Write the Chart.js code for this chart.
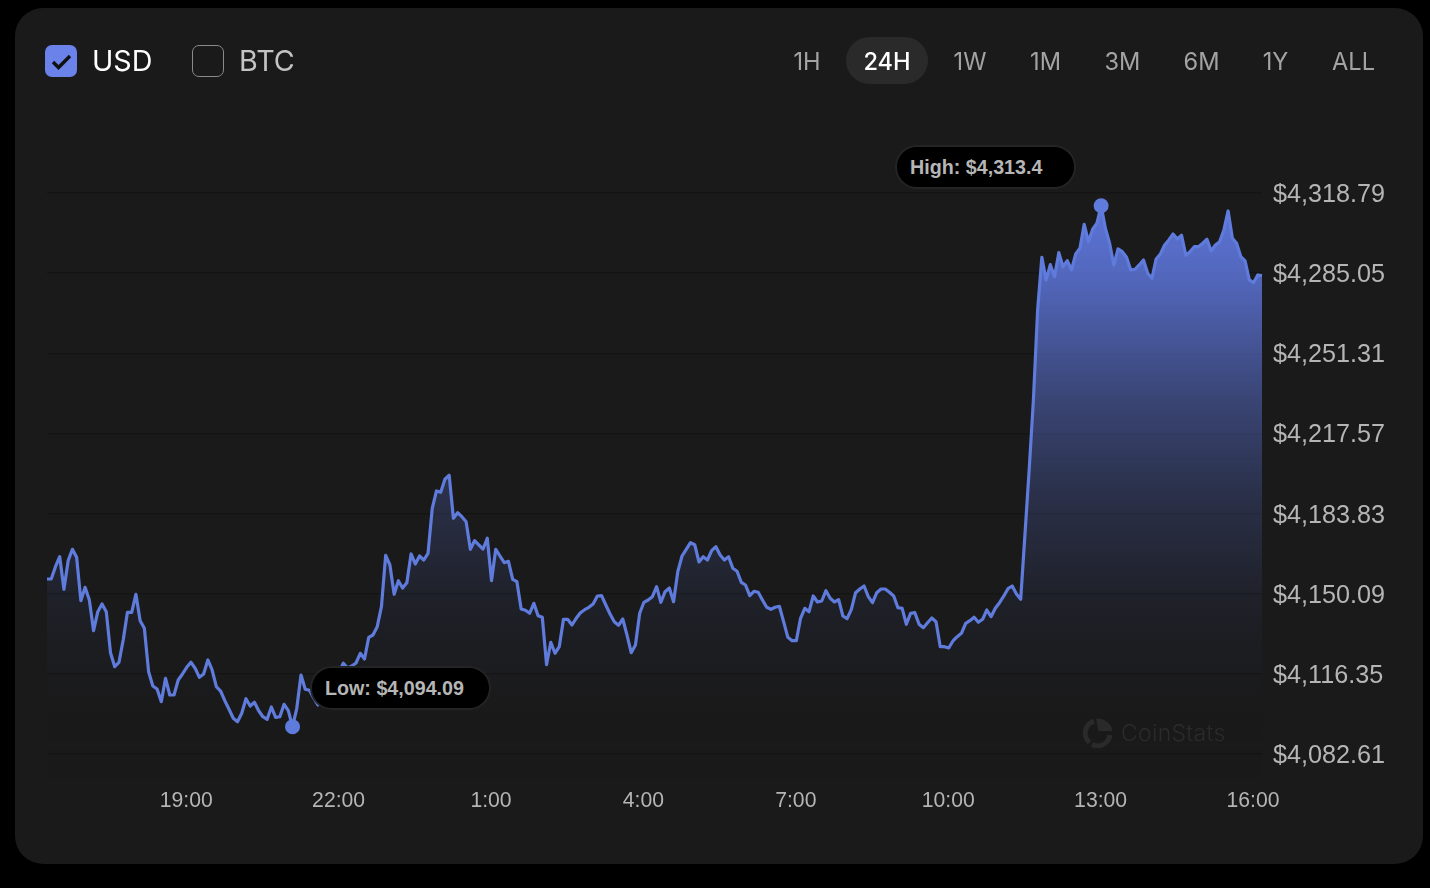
<!DOCTYPE html>
<html>
<head>
<meta charset="utf-8">
<title>CoinStats price chart</title>
<script src="https://cdn.jsdelivr.net/npm/chart.js@4/dist/chart.umd.min.js"></script>
<style>
  html, body { margin: 0; width: 1430px; height: 888px; background: #000; overflow: hidden; }
  #card { position: absolute; left: 15px; top: 8px; width: 1408px; height: 856px; background: #1a1a1a; border-radius: 28px; }
  #priceChart { position: absolute; left: 0; top: 0; }
  .box { position: absolute; top: 45px; width: 32px; height: 32px; box-sizing: border-box; border-radius: 7px; }
  #usdBox { left: 45px; background: #6a82ea; }
  #btcBox { left: 192px; border: 1.5px solid #8a8a8a; }
  .cur { position: absolute; top: 41px; font: 400 28.7px/40px Inter, sans-serif; }
  #usdText { left: 92px; color: #fff; }
  #btcText { left: 239px; color: #c4c4c4; }
  #activeRange { position: absolute; left: 846px; top: 37px; width: 82px; height: 47px; border-radius: 24px; background: #2a2a2a; }
  .range { position: absolute; top: 44.5px; width: 80px; margin-left: -40px; text-align: center; font: 400 23.6px/34px Inter, sans-serif; color: #a3a3a3; }
  .range.on { color: #fff; font-weight: 500; }
  .pill { position: absolute; box-sizing: border-box; width: 181px; height: 44px; border-radius: 22px; background: #000; border: 2px solid #242424; color: #b6b6b6; font: 700 19.7px/40px "Liberation Sans", Arial, sans-serif; padding-left: 13px; }
  #highPill { left: 895px; top: 145px; }
  #lowPill { left: 310px; top: 666px; }
  #mark { position: absolute; left: 1083px; top: 718px; width: 30px; height: 30px; }
  #markText { position: absolute; left: 1121px; top: 717px; font: 300 23px/32px Inter, sans-serif; letter-spacing: 0.3px; color: #2b2b2b; }
</style>
</head>
<body>
<div id="card"></div>
<canvas id="priceChart" width="1430" height="888"></canvas>

<div id="usdBox" class="box">
  <svg width="32" height="32" viewBox="0 0 32 32"><path d="M8 17 L13.5 22.5 L25 11" fill="none" stroke="#111" stroke-width="3.4"/></svg>
</div>
<div id="usdText" class="cur">USD</div>
<div id="btcBox" class="box"></div>
<div id="btcText" class="cur">BTC</div>
<div id="activeRange"></div>
<div id="ranges"></div>

<div id="highPill" class="pill"></div>
<div id="lowPill" class="pill"></div>

<svg id="mark" viewBox="0 0 30 30">
  <path d="M27 17 A12.5 12.5 0 0 1 9 26.5" fill="none" stroke="#2a2a2a" stroke-width="5"/>
  <path d="M6.5 24.5 A12.5 12.5 0 0 1 11 3.2" fill="none" stroke="#2a2a2a" stroke-width="5"/>
  <path d="M13 0.5 L15.5 13 L29.5 13 A15 15 0 0 0 13 0.5 Z" fill="#2a2a2a"/>
</svg>
<div id="markText">CoinStats</div>

<script>
const rangeNames = ['1H', '24H', '1W', '1M', '3M', '6M', '1Y', 'ALL'];
const rangeCenters = [807, 887, 970, 1045.5, 1122.5, 1201.5, 1275.5, 1353.5];
const activeRange = '24H';

const xTickLabels = ['19:00', '22:00', '1:00', '4:00', '7:00', '10:00', '13:00', '16:00'];
const yTickValues = [4318.79, 4285.05, 4251.31, 4217.57, 4183.83, 4150.09, 4116.35, 4082.61];

// 5 minute samples, first one at 16:15
const prices = [
  4156.29, 4156.29, 4161.47, 4165.68, 4151.95, 4164.0, 4168.79, 4165.43, 4147.15, 4152.8,
  4147.45, 4134.52, 4142.52, 4145.76, 4142.52, 4125.26, 4119.37, 4121.22, 4130.61, 4142.27,
  4142.27, 4149.85, 4138.73, 4135.53, 4117.26, 4111.24, 4109.98, 4104.63, 4114.48, 4107.45,
  4107.45, 4113.77, 4116.29, 4119.11, 4121.22, 4118.69, 4114.9, 4116.29, 4122.19, 4117.98,
  4110.95, 4109.13, 4105.05, 4101.43, 4097.64, 4096.21, 4099.75, 4105.89, 4102.82, 4104.38,
  4100.84, 4098.31, 4097.22, 4102.4, 4098.06, 4098.31, 4103.54, 4100.84, 4094.09, 4101.85,
  4115.87, 4109.85, 4109.43, 4106.19, 4103.24, 4106.61, 4109.56, 4112.08, 4114.19, 4117.13,
  4120.8, 4118.82, 4119.66, 4120.92, 4125.01, 4122.61, 4131.74, 4132.71, 4136.21, 4144.63,
  4166.27, 4162.18, 4149.85, 4155.57, 4152.5, 4154.73, 4166.82, 4162.61, 4165.97, 4164.29,
  4167.11, 4186.06, 4193.34, 4192.79, 4198.27, 4199.95, 4181.85, 4184.21, 4182.52, 4180.42,
  4168.79, 4172.42, 4170.61, 4168.92, 4173.43, 4155.57, 4168.79, 4165.97, 4163.15, 4163.74,
  4156.16, 4155.15, 4143.66, 4143.11, 4141.85, 4146.06, 4140.84, 4140.16, 4120.21, 4129.64,
  4125.01, 4127.79, 4139.32, 4139.32, 4136.92, 4139.74, 4142.1, 4143.36, 4144.37, 4145.76,
  4149.13, 4149.26, 4145.34, 4141.55, 4138.31, 4136.8, 4139.45, 4132.71, 4125.26, 4128.5,
  4141.85, 4146.48, 4147.45, 4148.84, 4153.05, 4146.48, 4150.94, 4152.5, 4146.73, 4159.36,
  4165.97, 4168.79, 4171.57, 4170.73, 4163.45, 4165.68, 4164.29, 4168.21, 4169.89, 4166.39,
  4164.29, 4165.68, 4160.8, 4159.53, 4154.9, 4153.76, 4149.26, 4151.11, 4150.69, 4147.45,
  4144.37, 4143.53, 4144.37, 4144.8, 4138.31, 4131.74, 4130.31, 4130.31, 4139.74, 4143.95,
  4142.52, 4149.13, 4146.61, 4147.03, 4151.36, 4148.16, 4146.61, 4147.57, 4140.71, 4139.57,
  4143.53, 4150.52, 4152.08, 4153.34, 4148.84, 4146.31, 4150.52, 4152.08, 4152.08, 4150.69,
  4149.13, 4144.21, 4143.95, 4137.22, 4141.85, 4142.1, 4137.22, 4135.79, 4137.89, 4139.87,
  4138.31, 4127.79, 4127.79, 4127.24, 4130.19, 4132.0, 4133.43, 4137.64, 4138.73, 4140.16,
  4138.06, 4139.32, 4143.24, 4140.42, 4143.95, 4146.31, 4149.13, 4152.21, 4153.34, 4149.97,
  4147.74, 4174.82, 4202.18, 4231.65, 4269.55, 4291.74, 4282.18, 4288.62, 4283.57, 4293.67,
  4287.78, 4290.31, 4286.39, 4293.13, 4295.52, 4305.63, 4298.31, 4303.52, 4306.05, 4313.4,
  4303.94, 4297.63, 4288.49, 4295.23, 4294.09, 4291.74, 4286.39, 4286.68, 4288.49, 4290.6,
  4285.0, 4282.89, 4291.02, 4293.13, 4296.91, 4299.02, 4301.55, 4299.44, 4301.0, 4292.58,
  4294.09, 4296.2, 4296.2, 4297.63, 4299.31, 4294.39, 4296.91, 4298.31, 4303.23, 4311.23,
  4299.74, 4297.63, 4291.99, 4290.18, 4282.18, 4281.04, 4284.28, 4283.99
];

const lowIndex = 58;
const highIndex = 249;
const lowText = 'Low: $4,094.09';
const highText = 'High: $4,313.4';

// time labels for the category axis, steps of 5 minutes
const startMinutes = 16 * 60 + 15;
const times = prices.map((p, i) => {
  const m = (startMinutes + i * 5) % 1440;
  return Math.floor(m / 60) + ':' + String(m % 60).padStart(2, '0');
});

document.getElementById('ranges').innerHTML = rangeNames.map((name, i) =>
  `<div class="range${name === activeRange ? ' on' : ''}" style="left:${rangeCenters[i]}px">${name}</div>`
).join('');
document.getElementById('highPill').textContent = highText;
document.getElementById('lowPill').textContent = lowText;

function areaFill(context) {
  const area = context.chart.chartArea;
  if (!area) return 'transparent';
  const g = context.chart.ctx.createLinearGradient(0, area.top, 0, area.bottom);
  g.addColorStop(0, 'rgba(98,124,232,0.95)');
  g.addColorStop(0.15, 'rgba(98,124,232,0.78)');
  g.addColorStop(0.354, 'rgba(98,124,232,0.44)');
  g.addColorStop(0.526, 'rgba(98,124,232,0.22)');
  g.addColorStop(0.70, 'rgba(98,124,232,0.07)');
  g.addColorStop(0.84, 'rgba(98,124,232,0.015)');
  g.addColorStop(0.95, 'rgba(26,26,26,0)');
  g.addColorStop(1, 'rgba(16,16,16,0.08)');
  return g;
}

new Chart(document.getElementById('priceChart').getContext('2d'), {
  type: 'line',
  data: {
    labels: times,
    datasets: [
      {
        label: 'USD',
        data: prices,
        borderColor: '#5f7bdc',
        borderWidth: 3.2,
        borderJoinStyle: 'round',
        backgroundColor: areaFill,
        fill: 'start',
        pointRadius: 0,
        tension: 0,
        order: 2
      },
      {
        label: 'High / Low',
        data: [
          { x: times[lowIndex], y: prices[lowIndex] },
          { x: times[highIndex], y: prices[highIndex] }
        ],
        showLine: false,
        pointRadius: 7.5,
        pointBackgroundColor: '#5f7bdc',
        pointBorderWidth: 0,
        order: 1
      }
    ]
  },
  options: {
    responsive: false,
    animation: false,
    devicePixelRatio: 1,
    layout: { padding: { left: 47, top: 193, right: 0, bottom: 0 } },
    plugins: { legend: { display: false }, tooltip: { enabled: false } },
    scales: {
      x: {
        type: 'category',
        grid: { display: false },
        border: { display: false },
        afterFit: scale => { scale.height = 111; },
        ticks: {
          autoSkip: false,
          maxRotation: 0,
          padding: 3,
          labelOffset: -0.5,
          color: '#b5b5b5',
          font: { family: '"Liberation Sans", Arial, sans-serif', size: 21.2 },
          callback: function (value) {
            const label = this.getLabelForValue(value);
            return xTickLabels.includes(label) ? label : null;
          }
        }
      },
      y: {
        position: 'right',
        min: 4072.93,
        max: 4318.79,
        border: { display: false },
        grid: { color: '#141414', lineWidth: 1.5, drawTicks: false },
        afterFit: scale => { scale.width = 168; },
        afterBuildTicks: scale => { scale.ticks = yTickValues.map(v => ({ value: v })); },
        ticks: {
          padding: 11,
          labelOffset: 2,
          color: '#b5b5b5',
          font: { family: '"Liberation Sans", Arial, sans-serif', size: 25.2 },
          callback: v => '$' + v.toLocaleString('en-US', { minimumFractionDigits: 2 })
        }
      }
    }
  }
});
</script>
</body>
</html>
